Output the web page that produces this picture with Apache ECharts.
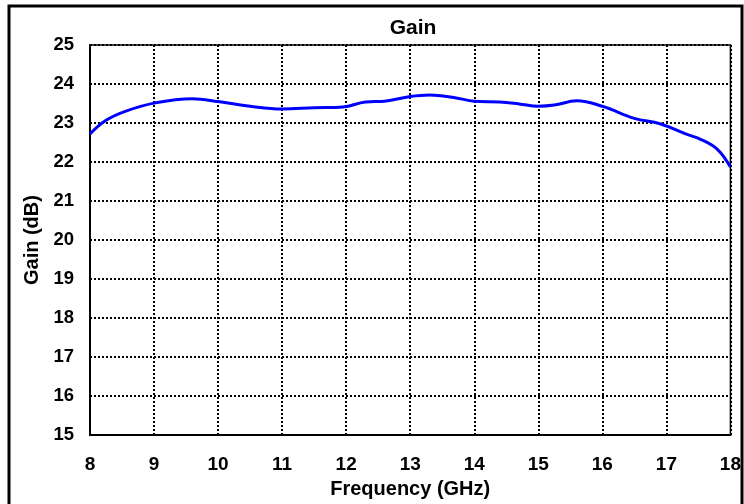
<!DOCTYPE html>
<html>
<head>
<meta charset="utf-8">
<script src="https://cdn.jsdelivr.net/npm/echarts@6/dist/echarts.min.js"></script>
<style>
    html, body { margin: 0; padding: 0; background: #fff; }
    #chart { width: 744px; height: 504px; }
</style>
</head>
<body>
<div id="chart"></div>
<script>
// 频率 (GHz) 与增益 (dB)
const freq = [8, 8.25, 8.55, 9.0, 9.6, 10.0, 10.5, 11.0, 11.5, 11.95, 12.3, 12.6, 13.0, 13.3, 13.7, 14.0, 14.4, 14.7, 15.0, 15.25, 15.6, 16.0, 16.5, 16.9, 17.3, 17.55, 17.8, 18.0];
const gain = [22.72, 23.07, 23.3, 23.51, 23.62, 23.55, 23.43, 23.36, 23.39, 23.41, 23.54, 23.56, 23.68, 23.72, 23.65, 23.56, 23.54, 23.49, 23.43, 23.46, 23.57, 23.43, 23.12, 22.98, 22.72, 22.57, 22.32, 21.87];
const xTicks = [8, 9, 10, 11, 12, 13, 14, 15, 16, 17, 18];
const yTicks = [15, 16, 17, 18, 19, 20, 21, 22, 23, 24, 25];

const font = 'Liberation Sans, Arial, sans-serif';
const dotted = { color: '#000', width: 2, type: [2, 2] };

const chart = echarts.init(document.getElementById('chart'));
const option = {
    animation: false,
    backgroundColor: '#fff',
    title: {
        text: 'Gain',
        left: 408,
        top: 13,
        textAlign: 'center',
        textStyle: { fontFamily: font, fontWeight: 'bold', fontSize: 21, color: '#000' }
    },
    graphic: [{
        type: 'rect',
        shape: { x: 9, y: 6, width: 733, height: 510 },
        style: { fill: 'none', stroke: '#000', lineWidth: 3 },
        z: 100
    }],
    grid: {
        left: 90, top: 45, right: 13, bottom: 67,
        show: true, borderColor: '#000', borderWidth: 1.5
    },
    xAxis: {
        type: 'value',
        min: xTicks[0], max: xTicks[xTicks.length - 1], interval: 1,
        name: 'Frequency (GHz)',
        nameLocation: 'middle',
        nameGap: 43,
        nameTextStyle: { fontFamily: font, fontWeight: 'bold', fontSize: 20, color: '#000' },
        axisLine: { lineStyle: { color: '#000', width: 2 } },
        axisTick: { show: false },
        axisLabel: { margin: 20, fontFamily: font, fontWeight: 'bold', fontSize: 19, color: '#000' },
        splitLine: { show: true, lineStyle: dotted }
    },
    yAxis: {
        type: 'value',
        min: yTicks[0], max: yTicks[yTicks.length - 1], interval: 1,
        name: 'Gain (dB)',
        nameLocation: 'middle',
        nameGap: 48,
        nameRotate: 90,
        nameTextStyle: { fontFamily: font, fontWeight: 'bold', fontSize: 20, color: '#000' },
        axisLine: { show: true, lineStyle: { color: '#000', width: 2 } },
        axisTick: { show: false },
        axisLabel: { margin: 16, fontFamily: font, fontWeight: 'bold', fontSize: 18.5, color: '#000' },
        splitLine: { show: true, lineStyle: dotted }
    },
    series: [{
        name: 'Gain',
        type: 'line',
        data: freq.map((f, i) => [f, gain[i]]),
        smooth: 0.4,
        showSymbol: false,
        lineStyle: { color: '#0000ff', width: 3 },
        itemStyle: { color: '#0000ff' },
        z: 10
    }]
};
chart.setOption(option);
</script>
</body>
</html>
